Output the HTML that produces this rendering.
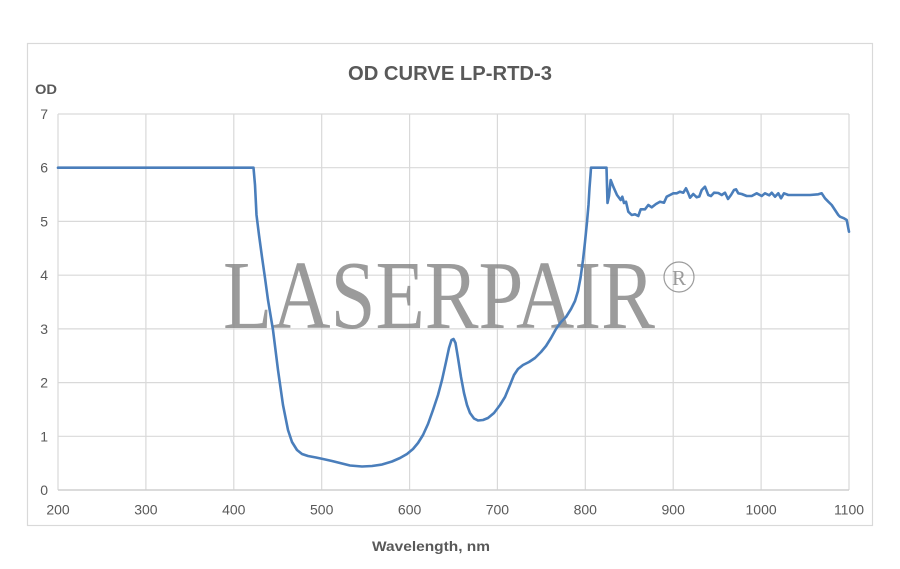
<!DOCTYPE html>
<html>
<head>
<meta charset="utf-8">
<style>
  html,body{margin:0;padding:0;background:#fff;}
  svg{display:block;}
  .t{font-family:"Liberation Sans",Arial,sans-serif;fill:#595959;}
</style>
</head>
<body>
<svg width="900" height="569" viewBox="0 0 900 569" xmlns="http://www.w3.org/2000/svg">
  <rect x="0" y="0" width="900" height="569" fill="#ffffff"/>
  <!-- chart frame -->
  <rect x="27.5" y="43.5" width="845" height="482" fill="none" stroke="#d9d9d9" stroke-width="1.2"/>

  <!-- gridlines -->
  <g stroke="#d9d9d9" stroke-width="1.2" fill="none">
    <line x1="58" y1="114" x2="849" y2="114"/>
    <line x1="58" y1="167.7" x2="849" y2="167.7"/>
    <line x1="58" y1="221.4" x2="849" y2="221.4"/>
    <line x1="58" y1="275.2" x2="849" y2="275.2"/>
    <line x1="58" y1="328.9" x2="849" y2="328.9"/>
    <line x1="58" y1="382.6" x2="849" y2="382.6"/>
    <line x1="58" y1="436.3" x2="849" y2="436.3"/>
    <line x1="58" y1="114" x2="58" y2="490"/>
    <line x1="145.9" y1="114" x2="145.9" y2="490"/>
    <line x1="233.8" y1="114" x2="233.8" y2="490"/>
    <line x1="321.7" y1="114" x2="321.7" y2="490"/>
    <line x1="409.6" y1="114" x2="409.6" y2="490"/>
    <line x1="497.4" y1="114" x2="497.4" y2="490"/>
    <line x1="585.3" y1="114" x2="585.3" y2="490"/>
    <line x1="673.2" y1="114" x2="673.2" y2="490"/>
    <line x1="761.1" y1="114" x2="761.1" y2="490"/>
    <line x1="849" y1="114" x2="849" y2="490"/>
  </g>
  <line x1="58" y1="490" x2="849" y2="490" stroke="#cfcfcf" stroke-width="1.4"/>

  <!-- watermark -->
  <g opacity="0.85">
    <text x="223" y="328" font-family="'Liberation Serif','Times New Roman',serif" font-size="98" fill="#8a8a8a" textLength="432" lengthAdjust="spacingAndGlyphs">LASERPAIR</text>
    <circle cx="679" cy="277" r="15" fill="none" stroke="#8a8a8a" stroke-width="1.2"/>
    <text x="679" y="285" text-anchor="middle" font-family="'Liberation Serif','Times New Roman',serif" font-size="21" fill="#8a8a8a">R</text>
  </g>

  <!-- series -->
  <path fill="none" stroke="#4a7ebb" stroke-width="2.6" stroke-linejoin="round" stroke-linecap="round"
    d="M58,167.7 L253.5,167.7 L255,185 L256.5,215 L259,235 L262,257 L265,278 L268,300 L273,330 L278,370 L283,405 L288,430 L292,442 L297,450 L302,454 L308,456 L316,457.5 L323,459 L332,461 L340,463 L350,465.5 L362,466.5 L372,466 L382,464.5 L392,461.5 L400,458 L407,454 L413,449 L418,443 L423,435 L428,424 L433,410 L438,395 L442,380 L446,362 L449,348 L451.5,340 L453.5,339 L455.5,343 L458,358 L461,377 L464,393 L467,405 L470,413 L474,418.5 L478,420.5 L483,420 L488,418 L494,413 L500,405 L505,397 L510,385 L514,375 L518,369 L523,365 L529,362 L535,358 L541,352 L546,346 L551,338 L556,329 L561,322 L566,317 L571,309 L575,301 L578,291 L580.5,278 L583,260 L585,242 L587,222 L588.5,205 L589.5,188 L590.5,175 L591,167.7 L606.5,167.7 L607.5,203 L609,196 L610.7,180 L613.3,186.7 L617,195 L620.7,200 L622.3,196.7 L624,203 L626,201.7 L628.3,211.7 L631.7,215 L635,214.3 L638.3,216 L640.7,209.3 L645,209.3 L648.3,205 L651.7,207.3 L656,204 L660,201.7 L664,202.7 L666.7,196.7 L670,195 L673.3,193.3 L676.7,193.3 L680,191.7 L683.3,192.7 L686,188.3 L688.3,193.3 L690,197.7 L693.3,194 L696.7,197.3 L699.3,196.5 L701.7,190 L705,186.7 L708.3,195 L711,196 L714,192.7 L718.3,193 L721.7,195 L725,192.7 L728,199 L731,195 L734,190 L736,189.3 L738.3,193.3 L741.7,194 L746.7,196 L751.7,196 L756.7,193.3 L761.7,196 L765,193.3 L769.3,195.3 L771.7,192.7 L775,196.7 L778.3,193.3 L781,198.3 L784,193.3 L788.3,195 L795,195 L801.7,195 L810,195 L818.3,194.3 L821.7,193.3 L825,198.3 L828.3,201.7 L831.7,205 L835,210 L838.3,215 L840,216.7 L844,218.3 L846.7,220 L849,231.7"/>

  <!-- title -->
  <text class="t" x="450" y="80" text-anchor="middle" font-size="20" font-weight="bold" textLength="204" lengthAdjust="spacingAndGlyphs">OD CURVE LP-RTD-3</text>
  <text class="t" x="35" y="94" font-size="14" font-weight="bold" textLength="22" lengthAdjust="spacingAndGlyphs">OD</text>

  <!-- y tick labels -->
  <g class="t" font-size="14" text-anchor="end">
    <text x="48" y="119">7</text>
    <text x="48" y="172.7">6</text>
    <text x="48" y="226.4">5</text>
    <text x="48" y="280.2">4</text>
    <text x="48" y="333.9">3</text>
    <text x="48" y="387.6">2</text>
    <text x="48" y="441.3">1</text>
    <text x="48" y="495">0</text>
  </g>

  <!-- x tick labels -->
  <g class="t" font-size="14" text-anchor="middle">
    <text x="58" y="514.5">200</text>
    <text x="145.9" y="514.5">300</text>
    <text x="233.8" y="514.5">400</text>
    <text x="321.7" y="514.5">500</text>
    <text x="409.6" y="514.5">600</text>
    <text x="497.4" y="514.5">700</text>
    <text x="585.3" y="514.5">800</text>
    <text x="673.2" y="514.5">900</text>
    <text x="761.1" y="514.5">1000</text>
    <text x="849" y="514.5">1100</text>
  </g>

  <!-- x axis title -->
  <text class="t" x="431" y="551" text-anchor="middle" font-size="14" font-weight="bold" textLength="118" lengthAdjust="spacingAndGlyphs">Wavelength, nm</text>
</svg>
</body>
</html>
